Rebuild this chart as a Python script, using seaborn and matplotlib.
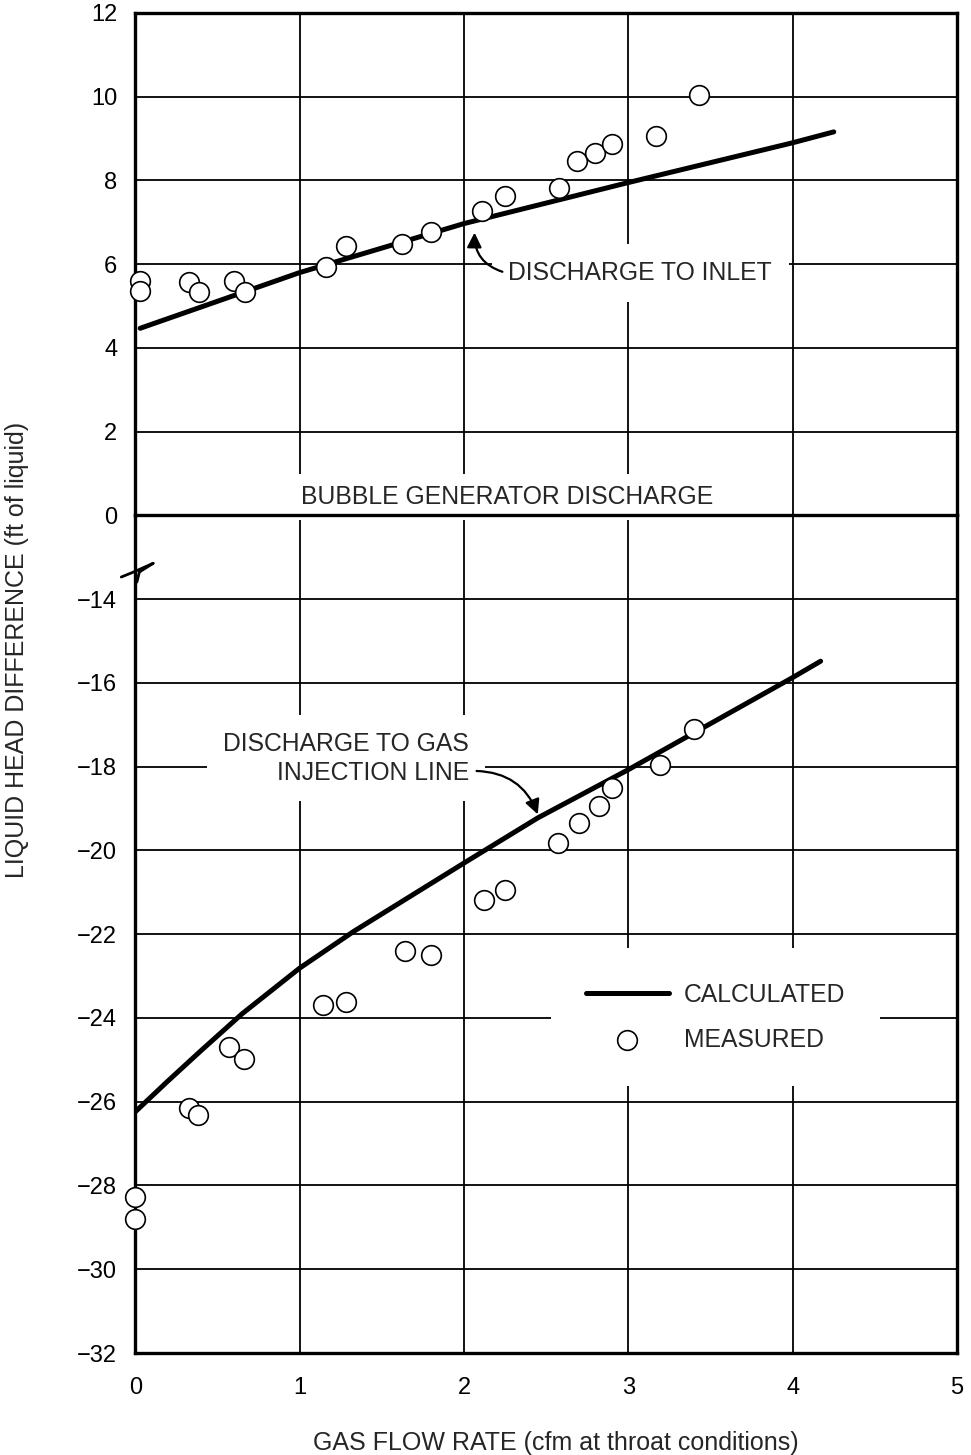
import matplotlib
matplotlib.use("Agg")
import matplotlib.pyplot as plt
import seaborn as sns
import pandas as pd

# discharge to inlet (upper panel)
top_calc_x = [0.03, 1.0, 2.0, 3.0, 4.0, 4.25]
top_calc_y = [4.47, 5.80, 6.97, 7.95, 8.90, 9.16]
top_meas_x = [0.03, 0.03, 0.33, 0.39, 0.60, 0.67, 1.16, 1.28, 1.62, 1.80,
              2.11, 2.25, 2.58, 2.69, 2.80, 2.90, 3.17, 3.43]
top_meas_y = [5.60, 5.36, 5.57, 5.33, 5.60, 5.33, 5.94, 6.44, 6.48, 6.78,
              7.28, 7.62, 7.83, 8.47, 8.65, 8.88, 9.07, 10.04]

# discharge to gas injection line (lower panel)
bot_calc_x = [0.0, 0.2, 0.4, 0.65, 1.0, 1.33, 2.0, 2.45, 3.0, 4.0, 4.17]
bot_calc_y = [-26.24, -25.50, -24.78, -23.90, -22.81, -21.93, -20.30, -19.22, -18.07, -15.87, -15.48]
bot_meas_x = [0.0, 0.0, 0.33, 0.38, 0.57, 0.66, 1.14, 1.28, 1.64, 1.80,
              2.12, 2.25, 2.57, 2.70, 2.82, 2.90, 3.19, 3.40]
bot_meas_y = [-28.27, -28.79, -26.16, -26.32, -24.69, -24.97, -23.70, -23.61, -22.41, -22.49,
              -21.18, -20.94, -19.82, -19.34, -18.94, -18.50, -17.95, -17.09]

x_ticks = [0, 1, 2, 3, 4, 5]
top_yticks = [0, 2, 4, 6, 8, 10, 12]
bot_yticks = [-32, -30, -28, -26, -24, -22, -20, -18, -16, -14]

sns.set_style("white")
plt.rcParams['font.family'] = ['Liberation Sans', 'DejaVu Sans']

fig = plt.figure(figsize=(9.71, 14.55), dpi=100)
gs = fig.add_gridspec(2, 1, height_ratios=[12, 20], hspace=0,
                      left=0.1393, right=0.9856, top=0.9911, bottom=0.0701)
ax_top = fig.add_subplot(gs[0])
ax_bot = fig.add_subplot(gs[1])
# keep the heavy zero line of the upper panel fully visible
ax_bot.patch.set_visible(False)
ax_top.set_zorder(2)
ax_top.patch.set_visible(False)

top_calc = pd.DataFrame({'x': top_calc_x, 'y': top_calc_y})
top_meas = pd.DataFrame({'x': top_meas_x, 'y': top_meas_y})
bot_calc = pd.DataFrame({'x': bot_calc_x, 'y': bot_calc_y})
bot_meas = pd.DataFrame({'x': bot_meas_x, 'y': bot_meas_y})

line_kw = dict(color='black', linewidth=3.6, solid_capstyle='round',
               solid_joinstyle='round', zorder=4)
pt_kw = dict(marker='o', s=200, facecolor='white', edgecolor='black',
             linewidth=1.2, zorder=5, clip_on=False)

sns.lineplot(data=top_calc, x='x', y='y', ax=ax_top, legend=False, **line_kw)
sns.scatterplot(data=top_meas, x='x', y='y', ax=ax_top, legend=False, **pt_kw)
sns.lineplot(data=bot_calc, x='x', y='y', ax=ax_bot, label='CALCULATED', **line_kw)
sns.scatterplot(data=bot_meas, x='x', y='y', ax=ax_bot, label='MEASURED', **pt_kw)

for ax in (ax_top, ax_bot):
    ax.set_xlim(0, 5)
    ax.set_xticks(x_ticks)
    ax.grid(True, color='black', linewidth=1.3)
    ax.set_axisbelow(True)
    ax.set_xlabel('')
    ax.set_ylabel('')
    ax.tick_params(axis='y', length=0, labelsize=17, pad=13, colors='black')
    ax.tick_params(axis='x', length=0, labelsize=17, pad=17, colors='black')
    for sp in ax.spines.values():
        sp.set_linewidth(2.4)
        sp.set_color('black')

ax_top.set_ylim(0, 12)
ax_top.set_yticks(top_yticks)
ax_top.tick_params(axis='x', labelbottom=False)
ax_bot.set_ylim(-32, -12)
ax_bot.set_yticks(bot_yticks)
ax_bot.spines['top'].set_visible(False)

# axis break mark on the left spine
ax_bot.plot([-0.017, -0.002, 0.022, 0.005, 0.002], [-13.47, -13.35, -13.14, -13.35, -13.59],
            transform=ax_bot.get_yaxis_transform(), color='black', lw=2, clip_on=False)

txt_size = 17.8
ax_top.text(2.26, 0.45, 'BUBBLE GENERATOR DISCHARGE', ha='center', va='center',
            fontsize=txt_size, bbox=dict(facecolor='white', edgecolor='none', pad=8), zorder=2)
ax_top.text(2.27, 5.79, 'DISCHARGE TO INLET', ha='left', va='center',
            fontsize=txt_size, bbox=dict(facecolor='white', edgecolor='none', pad=12), zorder=2)
ax_top.annotate('', xy=(2.065, 6.82), xytext=(2.25, 5.80),
                arrowprops=dict(arrowstyle='-|>', color='black', lw=1.6,
                                connectionstyle='arc3,rad=-0.4', mutation_scale=22))
ax_bot.text(2.03, -17.8, 'DISCHARGE TO GAS\nINJECTION LINE', ha='right', va='center',
            multialignment='right', fontsize=txt_size, linespacing=1.25,
            bbox=dict(facecolor='white', edgecolor='none', pad=12), zorder=2)
ax_bot.annotate('', xy=(2.455, -19.2), xytext=(2.06, -18.1),
                arrowprops=dict(arrowstyle='-|>', color='black', lw=1.6,
                                connectionstyle='arc3,rad=-0.35', mutation_scale=22))

leg = ax_bot.legend(loc='center', bbox_to_anchor=(0.706, 0.401), frameon=True,
                    facecolor='white', edgecolor='none', framealpha=1, fontsize=txt_size,
                    handlelength=3.35, handletextpad=0.6, labelspacing=0.85, borderpad=1.4)
leg.set_zorder(6)

fig.text(556 / 971, 1 - 1443 / 1455, 'GAS FLOW RATE (cfm at throat conditions)',
         ha='center', va='center', fontsize=18)
fig.text(17 / 971, 1 - 650 / 1455, 'LIQUID HEAD DIFFERENCE (ft of liquid)',
         ha='center', va='center', rotation=90, fontsize=18)

fig.savefig('out.png', dpi=100)
